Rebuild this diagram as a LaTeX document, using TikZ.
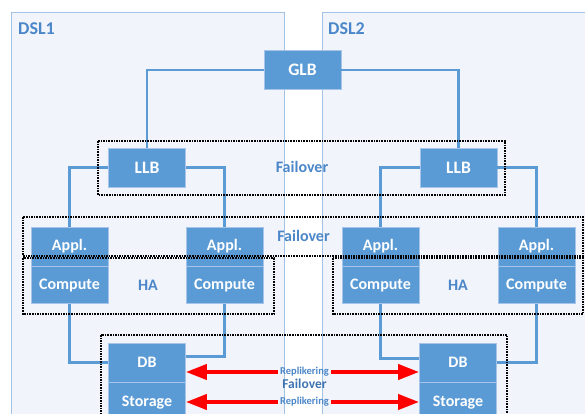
\documentclass[tikz,border=0pt]{standalone}
\usepackage{fontspec}
\setmainfont{Carlito}
\usetikzlibrary{arrows.meta,positioning}
\definecolor{boxfill}{HTML}{5B9BD5}
\definecolor{boxline}{HTML}{A7C5E8}
\definecolor{wire}{HTML}{5B9BD5}
\definecolor{paneline}{HTML}{A3C3E6}
\definecolor{panefill}{HTML}{F1F4FA}
\definecolor{lbl}{HTML}{4A86C8}
\definecolor{lbldark}{HTML}{3E73B2}
\definecolor{replred}{HTML}{FF0000}

\begin{document}
\begin{tikzpicture}[
  x=1pt, y=-1pt,
  box/.style={
    draw=boxline,
    line width=0.8pt,
    fill=boxfill,
    text=white,
    minimum width=77pt,
    minimum height=39pt,
    inner sep=0pt,
    font=\fontsize{16}{18}\selectfont\bfseries
  },
  bigbox/.style={box, font=\fontsize{17.5}{20}\selectfont\bfseries},
  lowbox/.style={box, minimum height=37pt},
  wire/.style={draw=wire, line width=2.4pt},
  group/.style={draw=black, line width=1.1pt, dash pattern=on 1.6pt off 1pt},
  pane/.style={draw=paneline, line width=0.9pt, fill=panefill},
  panetitle/.style={text=lbl, inner sep=0pt, anchor=west, font=\fontsize{18}{20}\selectfont\bfseries},
  grouptitle/.style={text=lbl, inner sep=0pt, font=\fontsize{16}{18}\selectfont\bfseries},
  repl/.style={text=lbl, inner sep=0pt, font=\fontsize{10.5}{12}\selectfont\bfseries},
  reparrow/.style={-{Triangle[length=21pt, width=15pt]}, line width=4pt, draw=replred, shorten <=2pt}
]
  \clip (0,0) rectangle (585,414);

  % Data centre panels
  \draw[pane] (11,12) rectangle (284,440);
  \draw[pane] (322,12) rectangle (600,440);
  \node[panetitle] (dsl1) at (18,29) {DSL1};
  \node[panetitle] (dsl2) at (328,29) {DSL2};

  % Load balancers
  \node[bigbox] (glb) at (302.5,70) {GLB};
  \node[bigbox] (llb1) at (147,167.5) {LLB};
  \node[bigbox] (llb2) at (458.5,167.5) {LLB};

  % Application servers
  \node[box] (appl1) at (69.5,246.5) {Appl.};
  \node[box] (appl2) at (224.5,246.5) {Appl.};
  \node[box] (appl3) at (380.5,246.5) {Appl.};
  \node[box] (appl4) at (536.5,246.5) {Appl.};
  \node[lowbox, below=0pt of appl1] (comp1) {Compute};
  \node[lowbox, below=0pt of appl2] (comp2) {Compute};
  \node[lowbox, below=0pt of appl3] (comp3) {Compute};
  \node[lowbox, below=0pt of appl4] (comp4) {Compute};

  % Databases
  \node[box] (db1) at (147,362.5) {DB};
  \node[box] (db2) at (458,362.5) {DB};
  \node[box, below=0pt of db1] (stor1) {Storage};
  \node[box, below=0pt of db2] (stor2) {Storage};

  % Connections
  \draw[wire] (glb.west) -| (llb1.north);
  \draw[wire] (glb.east) -| (llb2.north);
  \draw[wire] (llb1.west) -| (appl1.north);
  \draw[wire] (llb1.east) -| (appl2.north);
  \draw[wire] (llb2.west) -| (appl3.north);
  \draw[wire] (llb2.east) -| (appl4.north);
  \draw[wire] (comp1.south) |- (db1.west);
  \draw[wire] (comp2.south) |- ([yshift=6pt]db1.east);
  \draw[wire] (comp3.south) |- ([yshift=4pt]db2.west);
  \draw[wire] (comp4.south) |- (db2.east);

  % Failover / HA groups
  \draw[group] (98,141) rectangle (505,195);
  \draw[group] (23,217) rectangle (583,256);
  \draw[group] (23,258) rectangle (274,314);
  \draw[group] (333,258) rectangle (583,314);
  \draw[group] (101,335) rectangle (507,440);
  \node[grouptitle] (fo1) at (302,167) {Failover};
  \node[grouptitle] (fo2) at (303.5,236) {Failover};
  \node[grouptitle] (ha1) at (148,285) {HA};
  \node[grouptitle] (ha2) at (458,285) {HA};

  % Replication
  \node[repl] (rep1) at (304.5,372) {Replikering};
  \node[repl] (rep2) at (304.5,402) {Replikering};
  \node[grouptitle, text=lbldark, font=\fontsize{13.5}{15}\selectfont\bfseries] (fo3) at (304.5,384) {Failover};
  \draw[reparrow] (rep1.west) -- (rep1.west -| db1.east);
  \draw[reparrow] (rep1.east) -- (rep1.east -| db2.west);
  \draw[reparrow] (rep2.west) -- (rep2.west -| stor1.east);
  \draw[reparrow] (rep2.east) -- (rep2.east -| stor2.west);
\end{tikzpicture}
\end{document}
